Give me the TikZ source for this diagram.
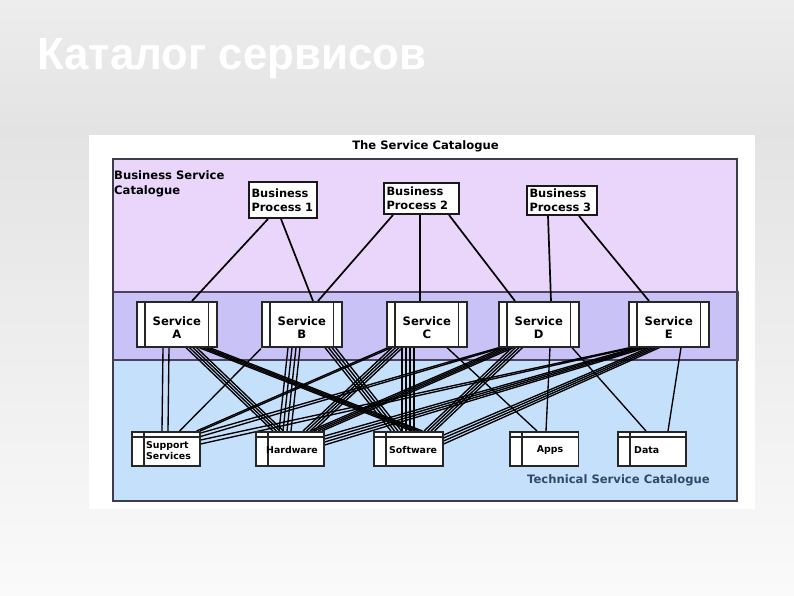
\documentclass[tikz,border=0pt]{standalone}
\usepackage{fontspec}
\setmainfont{DejaVu Sans}
\newfontfamily\titlefont{Liberation Sans}
\usepackage{graphicx}
\usetikzlibrary{calc}
\pgfdeclarelayer{bg}
\pgfdeclarelayer{wires}
\pgfsetlayers{bg,wires,main}
\definecolor{sltop}{HTML}{EDEDED}
\definecolor{slmid}{HTML}{E3E3E3}
\definecolor{slbot}{HTML}{FAFAFA}
\definecolor{lav}{HTML}{E9D6FA}
\definecolor{bandc}{HTML}{C9C2F7}
\definecolor{techc}{HTML}{C5E0FB}
\definecolor{framec}{HTML}{3C3C4C}
\definecolor{bandline}{HTML}{4A4460}
\definecolor{techtxt}{HTML}{2F4A6A}
\begin{document}
\begin{tikzpicture}[x=1pt,y=-1pt,
  bpbox/.style={draw=black!90, line width=2pt, fill=white, anchor=north west, inner xsep=2.5pt, inner ysep=0pt, align=left, font=\bfseries\fontsize{11.4}{14}\selectfont},
  svcbox/.style={draw=black!85, line width=1.6pt, fill=white, anchor=north west, minimum width=80pt, minimum height=45pt, inner sep=0pt},
  svctxt/.style={inner sep=0pt, align=center, font=\bfseries\fontsize{11.6}{13.3}\selectfont},
  compbox/.style={draw=black!85, line width=1.6pt, fill=white, anchor=north west, minimum height=34pt, inner sep=0pt},
  comptxt/.style={inner sep=0pt, anchor=west, align=left, font=\bfseries\fontsize{9.4}{11}\selectfont},
  innerline/.style={draw=black!85, line width=1.3pt},
  wire/.style={draw=black, line width=1.35pt},
  bpwire/.style={draw=black, line width=1.7pt},
  lbl/.style={inner sep=0pt, font=\bfseries\fontsize{11.6}{14.5}\selectfont}]
\useasboundingbox (0,0) rectangle (794,595);
\begin{pgfonlayer}{bg}
  \shade[top color=sltop, bottom color=slmid] (0,0) rectangle (794,130.5);
  \shade[top color=slmid, bottom color=slbot] (0,130) rectangle (794,595);
  \fill[white] (89,135) rectangle (755,509);
  \fill[lav] (113,159) rectangle (737,292);
  \fill[techc] (113,360) rectangle (737,501);
  \fill[bandc] (113,292) rectangle (738,360);
  \draw[framec, line width=1.6pt] (113,159) rectangle (737,501);
  \draw[bandline, line width=1.4pt] (113,292) -- (738,292) -- (738,360) -- (113,360);
\end{pgfonlayer}

% title
\node[anchor=base west, inner sep=0pt, text=white] (title) at (37,69)
  {\resizebox{389pt}{31pt}{\titlefont\bfseries Каталог сервисов}};

% labels
\node[lbl] (cat) at (425.5,146.5) {The Service Catalogue};
\node[lbl, anchor=north west, align=left] (bsc) at (114,170.5) {Business Service\\Catalogue};
\node[lbl, text=techtxt] (tsc) at (618.5,480.7) {Technical Service Catalogue};

% business processes
\node[bpbox, text width=63pt, minimum height=36pt] (BP1) at (248,181) {Business\\Process 1};
\node[bpbox, text width=70pt, minimum height=31pt] (BP2) at (383,182) {Business\\Process 2};
\node[bpbox, text width=65pt, minimum height=29pt] (BP3) at (526,185) {Business\\Process 3};

% services
\foreach \s/\x/\l in {A/136/A, B/261/B, C/386/C, D/498/D, E/628/E}{
  \node[svcbox] (\s) at (\x,301) {};
  \draw[innerline] ($(\s.north west)+(9,0)$) -- ($(\s.south west)+(9,0)$);
  \draw[innerline] ($(\s.north east)+(-9,0)$) -- ($(\s.south east)+(-9,0)$);
  \node[svctxt] (t\s) at ($(\s.center)+(0,3.5)$) {Service\\\l};
}

% components
\node[compbox, minimum width=68pt] (SS) at (131,431) {};
\node[compbox, minimum width=68pt] (HW) at (255,431) {};
\node[compbox, minimum width=69pt] (SW) at (373,431) {};
\node[compbox, minimum width=68.5pt] (Apps) at (509,431) {};
\node[compbox, minimum width=68pt] (Data) at (617,431) {};
\foreach \c in {SS,HW,SW,Apps,Data}{
  \draw[innerline] ($(\c.north west)+(0,6)$) -- ($(\c.north east)+(0,6)$);
  \draw[innerline] ($(\c.north west)+(13,0)$) -- ($(\c.south west)+(13,0)$);
}
\node[comptxt] (tSS) at ($(SS.west)+(15,1.5)$) {Support\\Services};
\node[comptxt] (tHW) at ($(HW.west)+(11,1)$) {Hardware};
\node[comptxt] (tSW) at ($(SW.west)+(16,1)$) {Software};
\node[comptxt, anchor=center] (tApps) at ($(Apps.center)+(6,1)$) {Apps};
\node[comptxt] (tData) at ($(Data.west)+(17,1)$) {Data};

\begin{pgfonlayer}{wires}
  % business processes to services
  \draw[bpwire] ($(BP1.south west)+(20,0)$) -- ($(A.north west)+(56,0)$);
  \draw[bpwire] ($(BP1.south west)+(33,0)$) -- ($(B.north west)+(52,0)$);
  \draw[bpwire] ($(BP2.south west)+(10,0)$) -- ($(B.north west)+(57,0)$);
  \draw[bpwire] ($(BP2.south west)+(37,0)$) -- ($(C.north west)+(34,0)$);
  \draw[bpwire] ($(BP2.south west)+(66,0)$) -- ($(D.north west)+(17,0)$);
  \draw[bpwire] ($(BP3.south west)+(22,0)$) -- ($(D.north west)+(53,0)$);
  \draw[bpwire] ($(BP3.south west)+(53,0)$) -- ($(E.north west)+(21,0)$);
  % service A
  \foreach \i in {0,1} \draw[wire] ($(A.south west)+(27+6*\i,0)$) -- ($(SS.north west)+(31+6*\i,0)$);
  \foreach \i in {0,...,3} \draw[wire] ($(A.south west)+(50+3.5*\i,0)$) -- ($(HW.north west)+(18+3.5*\i,0)$);
  \foreach \i in {0,...,3} \draw[wire] ($(A.south west)+(63+3.5*\i,0)$) -- ($(SW.north west)+(39+3.5*\i,0)$);
  % service B
  \draw[wire] ($(B.south west)+(0,1)$) -- ($(SS.north east)+(-21,0)$);
  \foreach \i in {0,...,3} \draw[wire] ($(B.south west)+(27+4*\i,0)$) -- ($(HW.north west)+(24+4*\i,0)$);
  \foreach \i in {0,...,3} \draw[wire] ($(B.south west)+(64+3.5*\i,0)$) -- ($(SW.north west)+(18+3.5*\i,0)$);
  % service C
  \foreach \i in {0,1} \draw[wire] ($(C.south west)+(2+3.5*\i,0)$) -- ($(SS.north east)+(-4+3.5*\i,0)$);
  \foreach \i in {0,...,3} \draw[wire] ($(C.south west)+(6+3.5*\i,0)$) -- ($(HW.north west)+(48+3.5*\i,0)$);
  \foreach \i in {0,...,3} \draw[wire] ($(C.south west)+(16+4*\i,0)$) -- ($(SW.north west)+(29+4*\i,0)$);
  \draw[wire] ($(C.south west)+(61,0)$) -- ($(Apps.north west)+(28,0)$);
  % service D
  \foreach \i in {0,1} \draw[wire] ($(D.south west)+(1+3.5*\i,0)$) -- ($(SS.north east)+(0,2+3.5*\i)$);
  \foreach \i in {0,...,3} \draw[wire] ($(D.south west)+(5+3.5*\i,0)$) -- ($(HW.north west)+(55+4*\i,0)$);
  \foreach \i in {0,...,3} \draw[wire] ($(D.south west)+(14+3.5*\i,0)$) -- ($(SW.north west)+(51+3.5*\i,0)$);
  \draw[wire] ($(D.south west)+(52,0)$) -- ($(Apps.north west)+(37,0)$);
  \draw[wire] ($(D.south west)+(74,0)$) -- ($(Data.north west)+(29,0)$);
  % service E
  \foreach \i in {0,1} \draw[wire] ($(E.south west)+(2+3.5*\i,0)$) -- ($(SS.north east)+(0,9+4*\i)$);
  \foreach \i in {0,...,3} \draw[wire] ($(E.south west)+(8+3.5*\i,0)$) -- ($(HW.north east)+(0,5+3*\i)$);
  \foreach \i in {0,...,3} \draw[wire] ($(E.south west)+(21+3.5*\i,0)$) -- ($(SW.north east)+(0,4+3*\i)$);
  \draw[wire] ($(E.south west)+(53,0)$) -- ($(Data.north west)+(51,0)$);
\end{pgfonlayer}
\end{tikzpicture}
\end{document}
